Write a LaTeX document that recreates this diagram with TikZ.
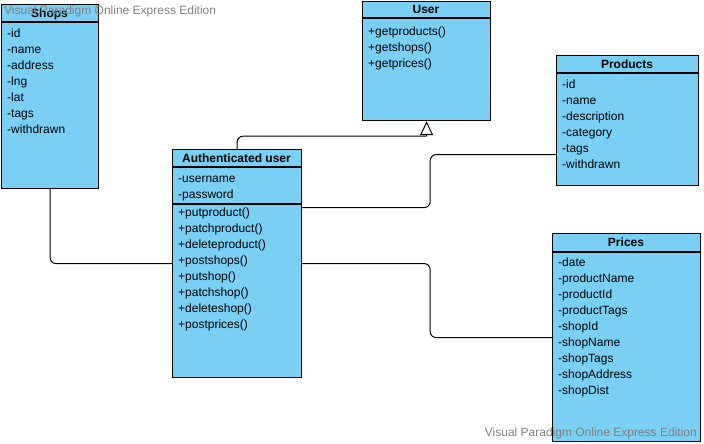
\documentclass[tikz,border=0pt]{standalone}
\usepackage{fontspec}
\setmainfont{Liberation Sans}
\usetikzlibrary{arrows.meta}
\definecolor{classblue}{RGB}{122,207,245}
\definecolor{wmgray}{RGB}{128,128,128}
\begin{document}
\begin{tikzpicture}[x=1pt,y=-1pt,font=\fontsize{12pt}{14pt}\selectfont]
    \tikzset{box/.style = {draw, fill=classblue, line width=1.2pt, anchor=north west, inner sep=0pt}}
    \tikzset{title/.style = {font=\fontsize{12pt}{14pt}\selectfont\bfseries, inner sep=0pt, text height=8.6pt, text depth=0pt}}
    \tikzset{item/.style = {anchor=west, inner sep=0pt, text height=8.6pt, text depth=0pt}}
    \tikzset{sep/.style = {line width=1.2pt}}
    \tikzset{link/.style = {rounded corners=6pt, line width=1pt}}
    \tikzset{wm/.style = {text=wmgray, inner sep=0pt, text height=8.6pt, text depth=0pt}}
    \useasboundingbox (0,0) rectangle (704,444);
    % classes
    \node[box, minimum width=97pt, minimum height=184pt] (shops) at (1,4) {};
    \node[box, minimum width=128pt, minimum height=119pt] (user) at (362,1) {};
    \node[box, minimum width=142pt, minimum height=130pt] (products) at (556,55) {};
    \node[box, minimum width=129pt, minimum height=228pt] (auth) at (172,149) {};
    \node[box, minimum width=148pt, minimum height=208pt] (prices) at (552,233) {};
    % compartments
    \draw[sep] ([yshift=-18pt]shops.north west) -- ([yshift=-18pt]shops.north east);
    \draw[sep] ([yshift=-17pt]user.north west) -- ([yshift=-17pt]user.north east);
    \draw[sep] ([yshift=-18pt]products.north west) -- ([yshift=-18pt]products.north east);
    \draw[sep] ([yshift=-18pt]auth.north west) -- ([yshift=-18pt]auth.north east);
    \draw[sep] ([yshift=-55pt]auth.north west) -- ([yshift=-55pt]auth.north east);
    \draw[sep] ([yshift=-19pt]prices.north west) -- ([yshift=-19pt]prices.north east);
    % titles
    \node[title] (shops-t) at (49.5,13) {Shops};
    \node[title] (user-t) at (426,9.5) {User};
    \node[title] (products-t) at (627,64) {Products};
    \node[title] (auth-t) at (236.5,158) {Authenticated user};
    \node[title] (prices-t) at (626,242) {Prices};
    % members
    \foreach \t [count=\i from 0] in {-id,-name,-address,-lng,-lat,-tags,-withdrawn}
        \node[item] (shops-\i) at (7,33+16*\i) {\t};
    \foreach \t [count=\i from 0] in {+getproducts(),+getshops(),+getprices()}
        \node[item] (user-\i) at (368,31+16*\i) {\t};
    \foreach \t [count=\i from 0] in {-id,-name,-description,-category,-tags,-withdrawn}
        \node[item] (products-\i) at (562,84+16*\i) {\t};
    \foreach \t [count=\i from 0] in {-username,-password}
        \node[item] (auth-a\i) at (178,178+16*\i) {\t};
    \foreach \t [count=\i from 0] in {+putproduct(),+patchproduct(),+deleteproduct(),+postshops(),+putshop(),+patchshop(),+deleteshop(),+postprices()}
        \node[item] (auth-m\i) at (178,212+16*\i) {\t};
    \foreach \t [count=\i from 0] in {-date,-productName,-productId,-productTags,-shopId,-shopName,-shopTags,-shopAddress,-shopDist}
        \node[item] (prices-\i) at (558,262+16*\i) {\t};
    % connectors
    \draw[link] (shops.south) |- (auth.west);
    \draw[link] (auth.north) |- ([yshift=-15pt]user.south);
    \draw[line width=1pt, -{Triangle[open, length=14pt, width=13pt]}] ([yshift=-15pt]user.south) -- (user.south);
    \draw[link] ([yshift=56pt]auth.east) -- ++(128,0) |- ([yshift=-34pt]products.west);
    \draw[link] (auth.east) -- ++(128,0) |- (prices.west);
    % watermarks
    \node[wm, anchor=west] (wm-top) at (4,10) {Visual Paradigm Online Express Edition};
    \node[wm, anchor=east] (wm-bottom) at (697,432) {Visual Paradigm Online Express Edition};
\end{tikzpicture}
\end{document}
